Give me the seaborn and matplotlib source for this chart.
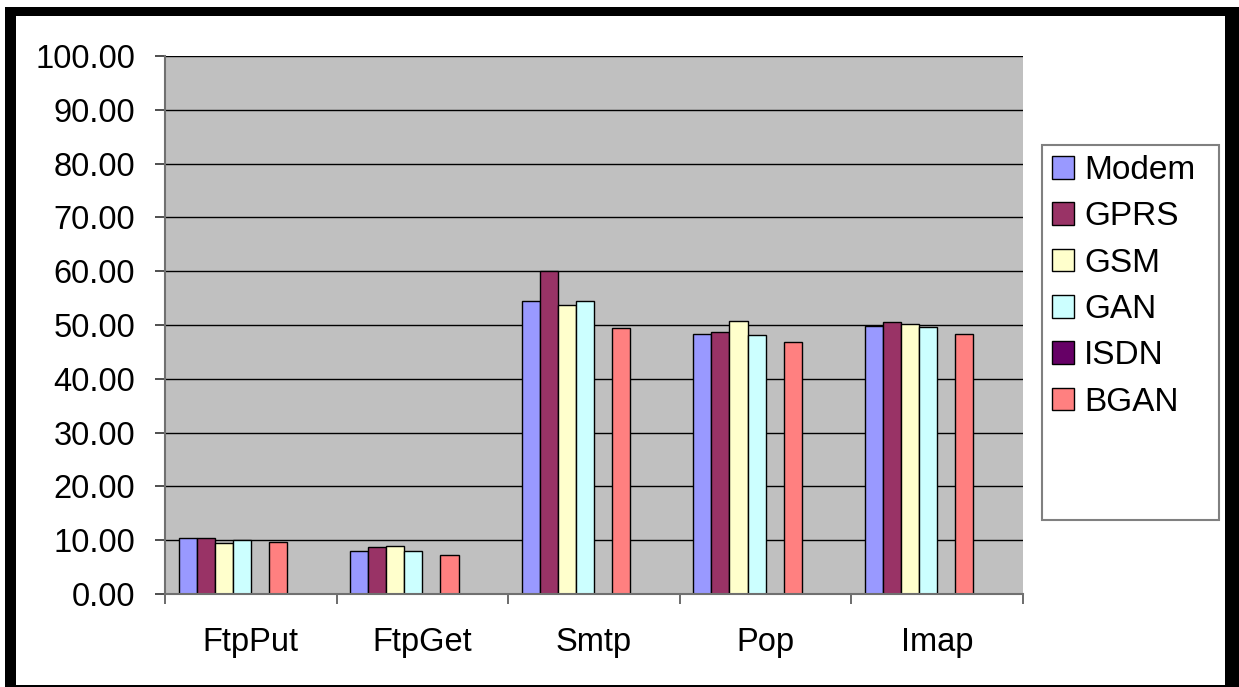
import pandas as pd
import matplotlib.pyplot as plt
import seaborn as sns
from matplotlib.patches import Patch, Rectangle
from matplotlib.ticker import FormatStrFormatter

# data
protocols = ["FtpPut", "FtpGet", "Smtp", "Pop", "Imap"]
series = ["Modem", "GPRS", "GSM", "GAN", "ISDN", "BGAN"]
# the sheet had two more (empty) series, they still take a slot in each group
empty_series = ["empty1", "empty2"]

modem = [10.5, 7.95, 54.5, 48.3, 49.9]
gprs = [10.5, 8.7, 60.0, 48.7, 50.6]
gsm = [9.4, 8.95, 53.7, 50.7, 50.2]
gan = [10.1, 7.95, 54.5, 48.1, 49.6]
isdn = [0.0, 0.0, 0.0, 0.0, 0.0]
bgan = [9.6, 7.3, 49.4, 46.8, 48.3]

colors = ["#9999FF", "#993366", "#FFFFCC", "#CCFFFF", "#660066", "#FF8080"]

rows = []
for name, vals in zip(series, [modem, gprs, gsm, gan, isdn, bgan]):
    for p, v in zip(protocols, vals):
        rows.append({"protocol": p, "series": name, "value": v})
df = pd.DataFrame(rows)

sns.set_style("white")
plt.rcParams["font.family"] = ["Liberation Sans", "DejaVu Sans"]
plt.rcParams["text.color"] = "black"
plt.rcParams["xtick.labelcolor"] = "black"
plt.rcParams["ytick.labelcolor"] = "black"

W, H = 1239, 687
fig = plt.figure(figsize=(W / 100, H / 100), dpi=100)
fig.patch.set_facecolor("white")
ax = fig.add_axes([165 / W, 1 - 594 / H, (1023 - 165) / W, (594 - 56) / H])
ax.set_facecolor("#C0C0C0")

sns.barplot(data=df, x="protocol", y="value", hue="series",
            hue_order=series + empty_series, order=protocols,
            palette=colors + ["#C0C0C0", "#C0C0C0"], saturation=1,
            width=8 / 9.5, gap=0, edgecolor="black", linewidth=1.0,
            errorbar=None, legend=False, ax=ax)

ax.set_ylim(0, 100)
ax.set_xlim(-0.5, 4.5)
ax.set_yticks(range(0, 101, 10))
ax.yaxis.set_major_formatter(FormatStrFormatter("%.2f"))
ax.yaxis.grid(True, color="black", linewidth=1.0)
ax.set_axisbelow(True)
ax.set_xlabel("")
ax.set_ylabel("")

ax.set_xticks([i - 0.5 for i in range(6)], minor=True)
ax.tick_params(axis="x", which="major", bottom=True, length=0, pad=24,
               labelsize=23.5, labelcolor="black")
ax.tick_params(axis="x", which="minor", bottom=True, length=7, width=1.3,
               color="#606060", direction="out")
ax.tick_params(axis="y", left=True, length=7.5, width=1.3, color="#404040",
               direction="out", pad=14, labelsize=23.5, labelcolor="black")

for s in ["top", "right"]:
    ax.spines[s].set_visible(False)
for s in ["left", "bottom"]:
    ax.spines[s].set_color("#707070")
    ax.spines[s].set_linewidth(1.5)

handles = [Patch(facecolor=c, edgecolor="black", linewidth=1.0, label=s)
           for s, c in zip(series, colors)]
handles += [Patch(facecolor="none", edgecolor="none", label=" ") for _ in empty_series]
leg = ax.legend(handles=handles, loc="upper left", mode="expand",
                bbox_to_anchor=(1042 / W, 1 - 517 / H, 177 / W, 372 / H),
                bbox_transform=fig.transFigure,
                frameon=True, fancybox=False, edgecolor="#808080", framealpha=1,
                fontsize=24, handlelength=0.67, handleheight=0.67,
                handletextpad=0.3, labelspacing=0.46, borderpad=0.3, borderaxespad=0)
leg.get_frame().set_linewidth(1.5)
for t in leg.get_texts():
    t.set_color("black")


# thick black frame around the picture (pixel boxes, top-left origin)
def frame_box(x0, y0, x1, y1):
    fig.add_artist(Rectangle((x0 / W, 1 - y1 / H), (x1 - x0) / W, (y1 - y0) / H,
                             transform=fig.transFigure, facecolor="black",
                             edgecolor="none"))


frame_box(5, 7, 16, 687)
frame_box(5, 7, 1239, 16)
frame_box(1225, 7, 1239, 687)
frame_box(5, 685, 1239, 687)

fig.savefig("out.png", dpi=100)
